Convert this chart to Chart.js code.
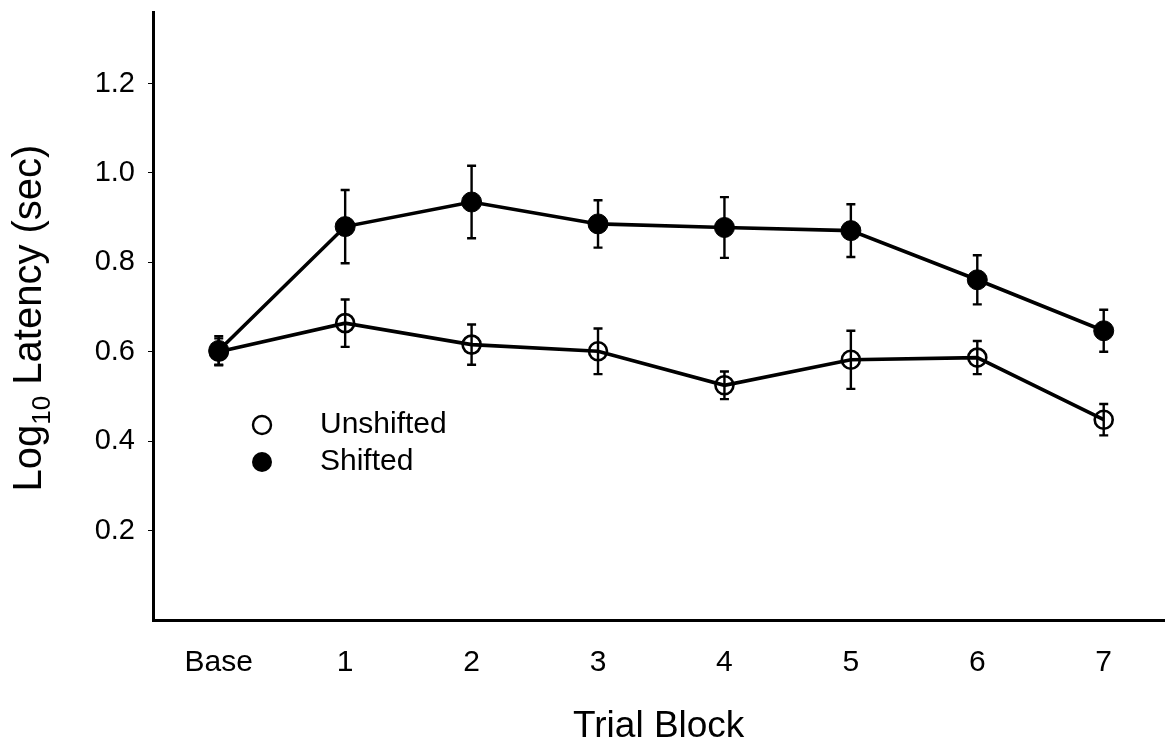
<!DOCTYPE html>
<html>
<head>
<meta charset="utf-8">
<script src="https://cdn.jsdelivr.net/npm/chart.js@4.4.1/dist/chart.umd.min.js"></script>
<style>
  html, body { margin: 0; padding: 0; background: #fff; }
  #wrap { width: 1176px; height: 746px; }
</style>
</head>
<body>
<div id="wrap"><canvas id="c" width="1176" height="746"></canvas></div>
<script>
// ---- data ----
const categories = ['Base', '1', '2', '3', '4', '5', '6', '7'];
const shiftedMean = [0.603, 0.880, 0.935, 0.886, 0.878, 0.871, 0.761, 0.647];
const shiftedErr  = [0.032, 0.082, 0.081, 0.053, 0.068, 0.059, 0.055, 0.047];
const unshiftedMean = [0.600, 0.664, 0.616, 0.601, 0.525, 0.582, 0.587, 0.448];
const unshiftedErr  = [0.030, 0.053, 0.045, 0.051, 0.031, 0.065, 0.037, 0.035];
const yTickValues = [0.2, 0.4, 0.6, 0.8, 1.0, 1.2];
const seriesNames = ['Shifted', 'Unshifted'];
const yTitleParts = ['Log', '10', ' Latency (sec)'];
const xTitle = 'Trial Block';

const FONT = '"Liberation Sans", Arial, Helvetica, sans-serif';

function toPoints(arr) { return arr.map((v, i) => ({ x: i, y: v })); }

const errorBars = {
  id: 'errorBars',
  beforeDatasetsDraw(chart) {
    const ctx = chart.ctx;
    const xs = chart.scales.x, ys = chart.scales.y;
    const sets = [[shiftedMean, shiftedErr], [unshiftedMean, unshiftedErr]];
    ctx.save();
    ctx.strokeStyle = '#000';
    ctx.lineWidth = 2.4;
    sets.forEach(([m, e]) => {
      m.forEach((v, i) => {
        const x = xs.getPixelForValue(i);
        const yt = ys.getPixelForValue(v + e[i]);
        const yb = ys.getPixelForValue(v - e[i]);
        ctx.beginPath();
        ctx.moveTo(x, yt); ctx.lineTo(x, yb);
        ctx.moveTo(x - 4.5, yt); ctx.lineTo(x + 4.5, yt);
        ctx.moveTo(x - 4.5, yb); ctx.lineTo(x + 4.5, yb);
        ctx.stroke();
      });
    });
    ctx.restore();
  }
};

const decorations = {
  id: 'decorations',
  afterDraw(chart) {
    const ctx = chart.ctx;
    const ca = chart.chartArea;
    ctx.save();
    ctx.fillStyle = '#000';
    ctx.strokeStyle = '#000';
    // legend
    const lx = ca.left + 109, ly1 = 425, ly2 = 462, tx = ca.left + 167;
    ctx.lineWidth = 2.4;
    ctx.beginPath(); ctx.arc(lx, ly1, 9, 0, Math.PI * 2); ctx.stroke();
    ctx.beginPath(); ctx.arc(lx, ly2, 10, 0, Math.PI * 2); ctx.fill();
    ctx.font = '30px ' + FONT;
    ctx.textBaseline = 'middle';
    ctx.textAlign = 'left';
    ctx.fillText(seriesNames[1], tx, ly1);
    ctx.fillText(seriesNames[0], tx, ly2);

    // y-axis title with subscript
    const big = '40px ' + FONT, small = '26px ' + FONT;
    ctx.font = big; const w1 = ctx.measureText(yTitleParts[0]).width;
    const w3 = ctx.measureText(yTitleParts[2]).width;
    ctx.font = small; const w2 = ctx.measureText(yTitleParts[1]).width;
    const total = w1 + w2 + w3;
    ctx.translate(41, 318);
    ctx.rotate(-Math.PI / 2);
    ctx.textBaseline = 'alphabetic';
    let x0 = -total / 2;
    ctx.font = big; ctx.fillText(yTitleParts[0], x0, 0); x0 += w1;
    ctx.font = small; ctx.fillText(yTitleParts[1], x0, 9); x0 += w2;
    ctx.font = big; ctx.fillText(yTitleParts[2], x0, 0);
    ctx.restore();
  }
};

new Chart(document.getElementById('c'), {
  type: 'line',
  data: {
    datasets: [
      {
        label: seriesNames[0],
        data: toPoints(shiftedMean),
        borderColor: '#000',
        borderWidth: 3.6,
        backgroundColor: '#000',
        pointBackgroundColor: '#000',
        pointBorderColor: '#000',
        pointRadius: 10,
        pointBorderWidth: 1,
        tension: 0
      },
      {
        label: seriesNames[1],
        data: toPoints(unshiftedMean),
        borderColor: '#000',
        borderWidth: 3.6,
        pointBackgroundColor: 'rgba(0,0,0,0)',
        pointBorderColor: '#000',
        pointRadius: 9,
        pointBorderWidth: 2.6,
        tension: 0
      }
    ]
  },
  options: {
    responsive: false,
    animation: false,
    devicePixelRatio: 1,
    layout: { padding: { top: 12, right: 8, left: 0, bottom: 0 } },
    plugins: { legend: { display: false }, tooltip: { enabled: false } },
    scales: {
      x: {
        type: 'linear',
        min: -0.52,
        max: 7.48,
        afterFit: s => { s.height = 126; s.paddingLeft = 0; s.paddingRight = 0; },
        afterBuildTicks: s => { s.ticks = categories.map((c, i) => ({ value: i })); },
        grid: { display: true, drawOnChartArea: false, drawTicks: false },
        border: { display: true, color: '#000', width: 3 },
        ticks: {
          color: '#000',
          font: { family: FONT, size: 30 },
          padding: 25,
          maxRotation: 0,
          autoSkip: false,
          callback: v => categories[v]
        },
        title: {
          display: true,
          text: xTitle,
          color: '#000',
          font: { family: FONT, size: 37, lineHeight: 1.05 },
          padding: { top: 0, bottom: 0 }
        }
      },
      y: {
        min: 0,
        max: 1.36,
        afterFit: s => { s.width = 153; s.paddingTop = 0; s.paddingBottom = 0; },
        afterBuildTicks: s => { s.ticks = yTickValues.map(v => ({ value: v })); },
        grid: { display: true, drawOnChartArea: false, drawTicks: true, tickLength: 5, color: '#000', tickWidth: 1 },
        border: { display: true, color: '#000', width: 3 },
        ticks: {
          color: '#000',
          font: { family: FONT, size: 29 },
          padding: 13,
          callback: v => v.toFixed(1)
        }
      }
    }
  },
  plugins: [errorBars, decorations]
});
</script>
</body>
</html>
